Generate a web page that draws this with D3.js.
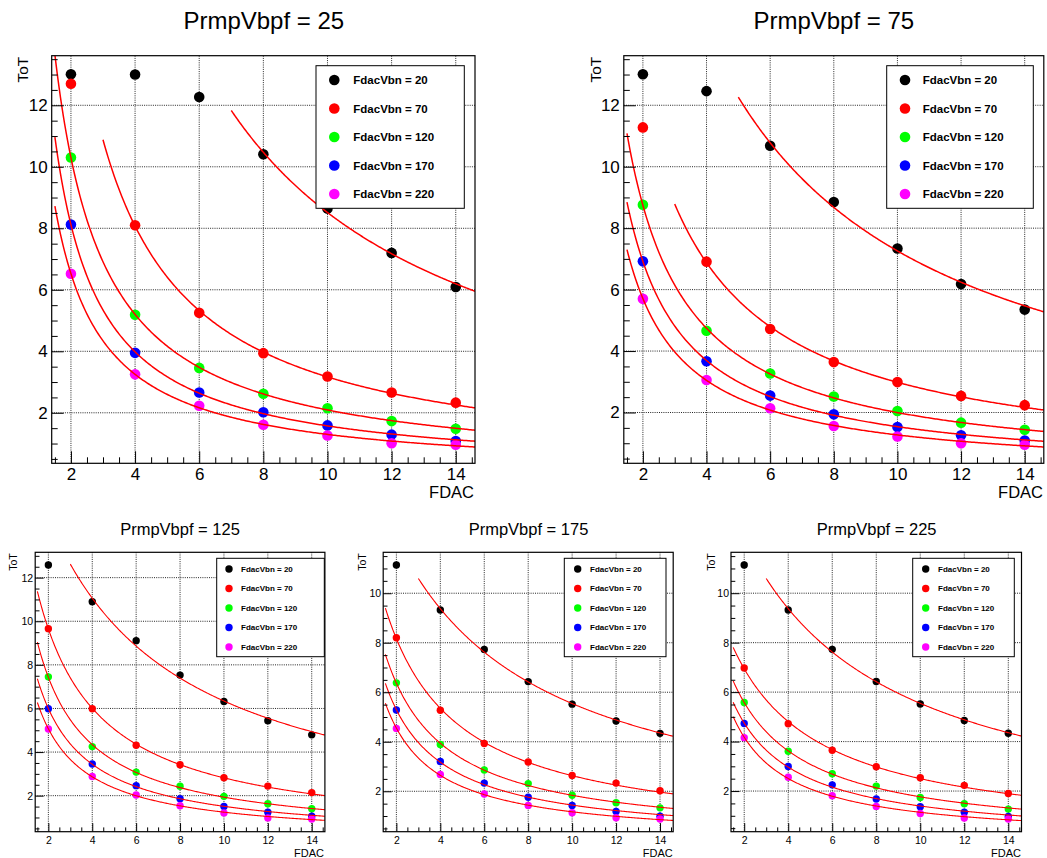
<!DOCTYPE html>
<html><head><meta charset="utf-8">
<script src="https://cdn.jsdelivr.net/npm/d3@7"></script>
<style>
body{margin:0;background:#fff}
svg{display:block}
text{font-family:"Liberation Sans",Arial,Helvetica,sans-serif;fill:#000}
</style>
</head><body>
<svg id="chart" width="1047" height="858"></svg>
<script>
// ---------------- data ----------------
const fdac = [2, 4, 6, 8, 10, 12, 14];
const fdacVbn = [20, 70, 120, 170, 220];
const prmpVbpf = [25, 75, 125, 175, 225];
const seriesColors = ["#000000", "#ff0000", "#00ff00", "#0000ff", "#ff00ff"];

// ToT values per FdacVbn series (rows) at each FDAC (columns)
const tot25 = [
  [13.01, 13.00, 12.27, 10.41, 8.64, 7.20, 6.09],
  [12.70, 8.10, 5.25, 3.94, 3.18, 2.66, 2.33],
  [10.30, 5.19, 3.46, 2.62, 2.15, 1.73, 1.48],
  [8.12, 3.95, 2.66, 2.02, 1.59, 1.29, 1.08],
  [6.52, 3.25, 2.23, 1.61, 1.26, 1.01, 0.96]
];
const tot75 = [
  [13.01, 12.46, 10.68, 8.85, 7.34, 6.18, 5.35],
  [11.28, 6.91, 4.72, 3.64, 2.99, 2.54, 2.24],
  [8.76, 4.66, 3.27, 2.52, 2.05, 1.67, 1.44],
  [6.92, 3.67, 2.55, 1.94, 1.53, 1.26, 1.09],
  [5.70, 3.06, 2.14, 1.56, 1.22, 1.00, 0.95]
];
const tot125 = [
  [12.58, 10.90, 9.11, 7.53, 6.32, 5.44, 4.79],
  [9.66, 5.99, 4.31, 3.42, 2.82, 2.44, 2.14],
  [7.45, 4.25, 3.08, 2.43, 1.97, 1.63, 1.40],
  [5.99, 3.45, 2.46, 1.86, 1.50, 1.24, 1.06],
  [5.06, 2.88, 2.03, 1.54, 1.21, 0.98, 0.93]
];
const tot175 = [
  [11.14, 9.32, 7.73, 6.43, 5.52, 4.84, 4.34],
  [8.20, 5.27, 3.93, 3.18, 2.64, 2.33, 2.02],
  [6.38, 3.89, 2.86, 2.31, 1.84, 1.54, 1.33],
  [5.28, 3.20, 2.33, 1.76, 1.43, 1.18, 0.99],
  [4.54, 2.68, 1.89, 1.43, 1.13, 0.93, 0.88]
];
const tot225 = [
  [11.14, 9.32, 7.73, 6.43, 5.52, 4.85, 4.34],
  [6.98, 4.72, 3.65, 2.98, 2.54, 2.23, 1.90],
  [5.58, 3.61, 2.70, 2.20, 1.74, 1.49, 1.27],
  [4.73, 2.99, 2.25, 1.68, 1.37, 1.14, 0.97],
  [4.16, 2.56, 1.81, 1.38, 1.09, 0.91, 0.87]
];
// lower edge of the fit range of each series
const fitStart25 = [7, 3, 1.5, 1.5, 1.5];
const fitStart75 = [5, 3, 1.5, 1.5, 1.5];
const fitStart125 = [3, 1.5, 1.5, 1.5, 1.5];
const fitStart175 = [3, 1.5, 1.5, 1.5, 1.5];
const fitStart225 = [3, 1.5, 1.5, 1.5, 1.5];

const xTicks = [2, 4, 6, 8, 10, 12, 14];
const yTicksTop = [2, 4, 6, 8, 10, 12];
const yTicks125 = [2, 4, 6, 8, 10, 12];
const yTicks175 = [2, 4, 6, 8, 10];
const yTicks225 = [2, 4, 6, 8, 10];
const xDomain = [1.4, 14.6];

const panelData = [tot25, tot75, tot125, tot175, tot225];
const panelFit = [fitStart25, fitStart75, fitStart125, fitStart175, fitStart225];
const panelYTicks = [yTicksTop, yTicksTop, yTicks125, yTicks175, yTicks225];

// ---------------- layout ----------------
const big = {title: 24, tick: 17, axis: 16.5, yAxis: 15.5, leg: 11.5, r: 5.3, major: 12, minor: 6, xPad: 5, yPad: 4, curveW: 1.5, rowStep: 28.5, row0: 14.3};
const small = {title: 16.5, tick: 10.5, axis: 11, yAxis: 10.5, leg: 8, r: 3.7, major: 8.5, minor: 4.3, xPad: 5, yPad: 2, curveW: 1.1, rowStep: 19.5, row0: 10.7};
const layout = [
  {st: big, frame: [51.7, 475, 55.7, 463.3], title: [263.8, 29.3], legend: [316, 65.7, 464.3, 208.3], legMark: 18.3, legText: 37.3, yLabX: 28, xLabY: 498, xLabR: 474},
  {st: big, frame: [623.8, 1043.8, 55.7, 463.3], title: [833.8, 29.3], legend: [886.7, 65.7, 1033.3, 208.3], legMark: 18.3, legText: 36, yLabX: 601, xLabY: 498, xLabR: 1043},
  {st: small, frame: [35.2, 324.9, 552.3, 831.7], title: [180, 535], legend: [216.7, 558.3, 324.3, 656.7], legMark: 12.3, legText: 24.3, yLabX: 16.7, xLabY: 857, xLabR: 324},
  {st: small, frame: [383.2, 673.2, 552.3, 831.7], title: [528.5, 535], legend: [564.3, 558.3, 666, 656.7], legMark: 13.4, legText: 25.7, yLabX: 366, xLabY: 857, xLabR: 672.7},
  {st: small, frame: [731, 1021.5, 552.3, 831.7], title: [876.7, 535], legend: [912.7, 558.3, 1014.3, 656.7], legMark: 13, legText: 25.3, yLabX: 715, xLabY: 857, xLabR: 1021}
];

// least-squares fit of ToT = a / (FDAC + c)
function fitInverse(xs, ys) {
  let best = null;
  for (let c = -1.2; c <= 15; c += 0.005) {
    let suu = 0, suy = 0;
    xs.forEach((x, i) => { const u = 1 / (x + c); suu += u * u; suy += u * ys[i]; });
    const a = suy / suu;
    let sse = 0;
    xs.forEach((x, i) => { const r = ys[i] - a / (x + c); sse += r * r; });
    if (!best || sse < best.sse) best = {a, c, sse};
  }
  return best;
}

const svg = d3.select("#chart");
const defs = svg.append("defs");

layout.forEach((L, p) => {
  const st = L.st;
  const data = panelData[p];
  const [x0, x1, y0, y1] = L.frame;
  const all = data.flat();
  const mn = d3.min(all), mx = d3.max(all), rg = mx - mn;
  const x = d3.scaleLinear().domain(xDomain).range([x0, x1]);
  const y = d3.scaleLinear().domain([mn - 0.05 * rg, mx + 0.05 * rg]).range([y1, y0]);
  const g = svg.append("g");
  const clipId = "clip" + p;
  defs.append("clipPath").attr("id", clipId).append("rect")
    .attr("x", x0).attr("y", y0).attr("width", x1 - x0).attr("height", y1 - y0);

  // title
  g.append("text").attr("x", L.title[0]).attr("y", L.title[1])
    .attr("text-anchor", "middle").style("font-size", st.title + "px")
    .text("PrmpVbpf = " + prmpVbpf[p]);

  // grid
  const yMaj = panelYTicks[p];
  const grid = g.append("g").attr("stroke", "#000").attr("stroke-width", 1)
    .attr("stroke-dasharray", "1,1.2").attr("opacity", 0.85);
  xTicks.forEach(t => grid.append("line").attr("x1", x(t)).attr("x2", x(t)).attr("y1", y0).attr("y2", y1));
  yMaj.forEach(t => grid.append("line").attr("x1", x0).attr("x2", x1).attr("y1", y(t)).attr("y2", y(t)));

  // points
  const pts = g.append("g");
  data.forEach((row, s) => {
    pts.selectAll(null).data(row).enter().append("circle")
      .attr("cx", (d, i) => x(fdac[i])).attr("cy", d => y(d))
      .attr("r", st.r).attr("fill", seriesColors[s]);
  });

  // fitted curves
  const curves = g.append("g").attr("clip-path", "url(#" + clipId + ")");
  data.forEach((row, s) => {
    const xs = [], ys = [];
    row.forEach((v, i) => { if (fdac[i] >= panelFit[p][s]) { xs.push(fdac[i]); ys.push(v); } });
    const f = fitInverse(xs, ys);
    const start = panelFit[p][s], end = xDomain[1];
    const n = 300;
    const samples = d3.range(n + 1).map(i => start + (end - start) * i / n);
    curves.append("path")
      .attr("d", d3.line().x(t => x(t)).y(t => y(f.a / (t + f.c)))(samples))
      .attr("fill", "none").attr("stroke", "#ff0000").attr("stroke-width", st.curveW);
  });

  // axes
  const minorX = d3.range(1.5, 14.6, 0.5).filter(t => !xTicks.includes(t));
  const yd = y.domain();
  const minorY = d3.range(Math.ceil(yd[0] * 2) / 2, yd[1], 0.5).filter(t => !yMaj.includes(t));
  const ax = g.append("g").attr("transform", `translate(0,${y1})`)
    .call(d3.axisBottom(x).tickValues(xTicks).tickSize(-st.major).tickPadding(st.xPad).tickFormat(d3.format("d")));
  ax.select(".domain").remove();
  ax.selectAll("text").style("font-size", st.tick + "px").attr("font-family", null);
  const axm = g.append("g").attr("transform", `translate(0,${y1})`)
    .call(d3.axisBottom(x).tickValues(minorX).tickSize(-st.minor).tickFormat(""));
  axm.select(".domain").remove();
  const ay = g.append("g").attr("transform", `translate(${x0},0)`)
    .call(d3.axisLeft(y).tickValues(yMaj).tickSize(-st.major).tickPadding(st.yPad).tickFormat(d3.format("d")));
  ay.select(".domain").remove();
  ay.selectAll("text").style("font-size", st.tick + "px").attr("font-family", null);
  const aym = g.append("g").attr("transform", `translate(${x0},0)`)
    .call(d3.axisLeft(y).tickValues(minorY).tickSize(-st.minor).tickFormat(""));
  aym.select(".domain").remove();
  g.selectAll(".tick line").attr("stroke", "#000");

  // legend
  const [lx0, ly0, lx1, ly1] = L.legend;
  g.append("rect").attr("x", lx0).attr("y", ly0).attr("width", lx1 - lx0).attr("height", ly1 - ly0)
    .attr("fill", "#fff").attr("stroke", "#000").attr("stroke-width", 1);
  fdacVbn.forEach((v, s) => {
    const cy = ly0 + st.row0 + s * st.rowStep;
    g.append("circle").attr("cx", lx0 + L.legMark).attr("cy", cy).attr("r", st.r).attr("fill", seriesColors[s]);
    g.append("text").attr("x", lx0 + L.legText).attr("y", cy).attr("dy", "0.36em")
      .style("font-size", st.leg + "px").style("font-weight", "bold")
      .text("FdacVbn = " + v);
  });

  // frame
  g.append("rect").attr("x", x0).attr("y", y0).attr("width", x1 - x0).attr("height", y1 - y0)
    .attr("fill", "none").attr("stroke", "#000").attr("stroke-width", 1.2);

  // axis titles
  g.append("text").attr("x", L.xLabR).attr("y", L.xLabY).attr("text-anchor", "end")
    .style("font-size", st.axis + "px").text("FDAC");
  g.append("text").attr("transform", `translate(${L.yLabX},${y0 + 1}) rotate(-90)`)
    .attr("text-anchor", "end").style("font-size", st.yAxis + "px").text("ToT");
});
</script>
</body></html>
